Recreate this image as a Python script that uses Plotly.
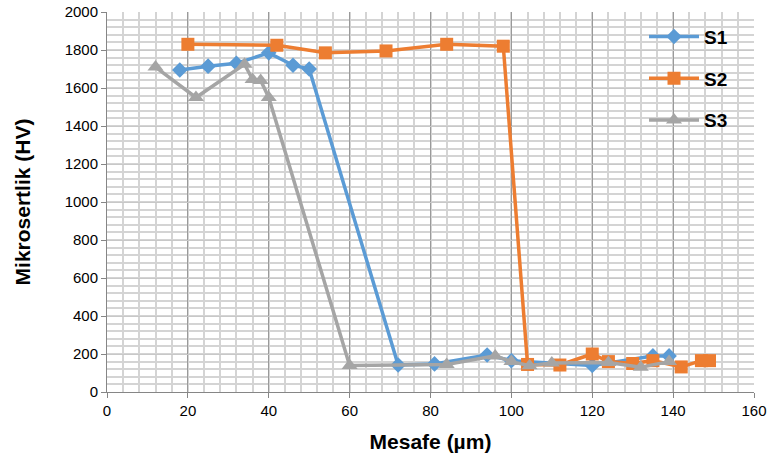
import plotly.graph_objects as go

# Data
s1_x = [18, 25, 32, 40, 46, 50, 72, 81, 94, 100, 120, 135, 139]
s1_y = [1695, 1715, 1730, 1785, 1720, 1700, 142, 148, 195, 165, 140, 190, 190]

s2_x = [20, 42, 54, 69, 84, 98, 104, 112, 120, 124, 130, 135, 142, 147, 149]
s2_y = [1830, 1825, 1785, 1795, 1830, 1820, 145, 142, 200, 160, 150, 165, 132, 165, 165]

s3_x = [12, 22, 34, 36, 38, 40, 60, 84, 96, 100, 104.5, 110, 124, 132, 139]
s3_y = [1710, 1550, 1725, 1645, 1640, 1550, 140, 145, 190, 160, 138, 152, 155, 130, 160]

x_ticks = [0, 20, 40, 60, 80, 100, 120, 140, 160]
y_ticks = [0, 200, 400, 600, 800, 1000, 1200, 1400, 1600, 1800, 2000]

blue = "#5B9BD5"
orange = "#ED7D31"
gray = "#A5A5A5"

fig = go.Figure()
fig.add_trace(go.Scatter(x=s1_x, y=s1_y, name="S1", mode="lines+markers",
                         line=dict(color=blue, width=3.5),
                         marker=dict(symbol="diamond", size=12, color=blue),
                         legendgroup="a"))
fig.add_trace(go.Scatter(x=s2_x, y=s2_y, name="S2", mode="lines+markers",
                         line=dict(color=orange, width=3.5),
                         marker=dict(symbol="square", size=13, color=orange),
                         legendgroup="b"))
fig.add_trace(go.Scatter(x=s3_x, y=s3_y, name="S3", mode="lines+markers",
                         line=dict(color=gray, width=3.5),
                         marker=dict(symbol="triangle-up", size=14, color=gray),
                         legendgroup="c"))

font_family = "Liberation Sans, Arial, sans-serif"

fig.update_layout(
    width=767, height=456,
    margin=dict(l=107, r=13, t=12, b=64, autoexpand=False),
    paper_bgcolor="white", plot_bgcolor="white",
    font=dict(family=font_family, color="#000000", size=15),
    showlegend=True,
    legend=dict(x=0.83, y=0.985, xanchor="left", yanchor="top",
                bgcolor="rgba(0,0,0,0)", tracegroupgap=14,
                itemwidth=50,
                font=dict(family=font_family, size=19, color="#000000", weight="bold")),
    xaxis=dict(
        range=[0, 160], tickvals=x_ticks, ticktext=[str(v) for v in x_ticks],
        showgrid=True, gridcolor="#9a9a9a", gridwidth=1,
        minor=dict(dtick=4, showgrid=True, gridcolor="#d4d4d4", gridwidth=2, ticks=""),
        showline=True, linecolor="#868686", linewidth=1,
        ticks="outside", ticklen=5, tickcolor="#868686",
        tickfont=dict(size=15, color="#000000"),
        zeroline=False, automargin=False,
        title=dict(text="<b>Mesafe (µm)</b>", font=dict(size=21, color="#000000"), standoff=16),
    ),
    yaxis=dict(
        range=[0, 2000], tickvals=y_ticks, ticktext=[str(v) for v in y_ticks],
        showgrid=True, gridcolor="#c8c8c8", gridwidth=1,
        minor=dict(dtick=40, showgrid=True, gridcolor="#d4d4d4", gridwidth=2, ticks=""),
        showline=True, linecolor="#868686", linewidth=1,
        ticks="outside", ticklen=5, tickcolor="#868686",
        tickfont=dict(size=15, color="#000000"),
        zeroline=False, automargin=False,
        title=dict(text="<b>Mikrosertlik (HV)</b>", font=dict(size=21, color="#000000"), standoff=28),
    ),
)

fig.write_html("out.html", config={"displayModeBar": False},
               post_script="document.body.style.margin='0';document.body.style.overflow='hidden';")
